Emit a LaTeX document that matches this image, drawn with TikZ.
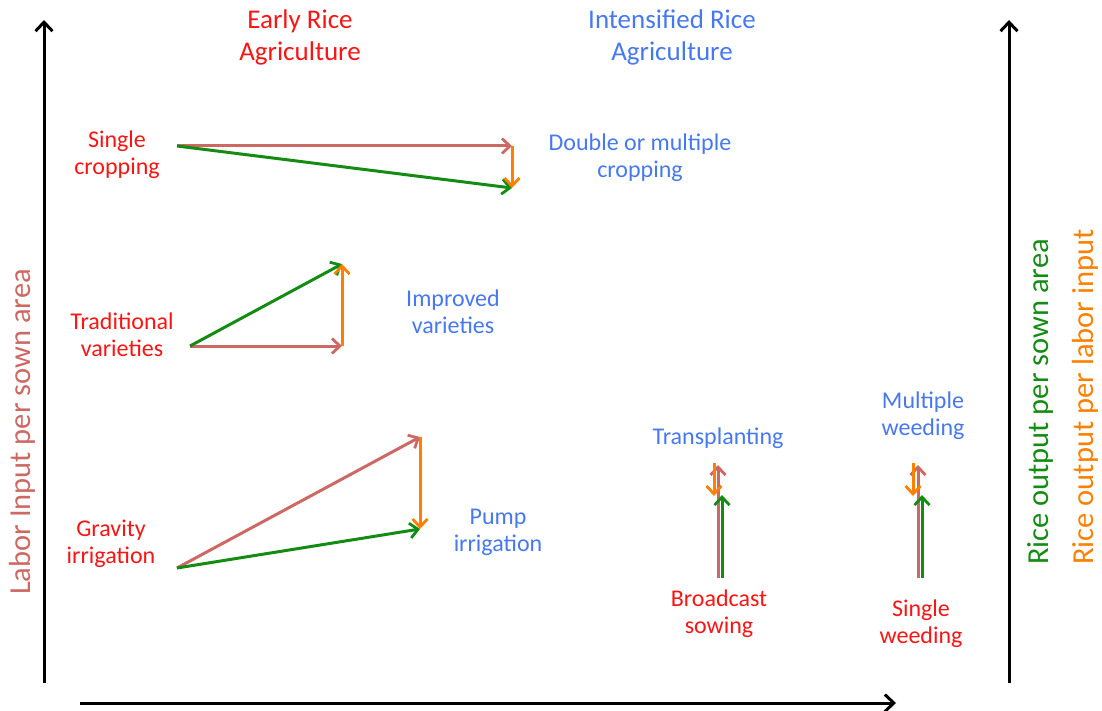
\documentclass[tikz,border=0pt]{standalone}
\usepackage{fontspec}
\setmainfont{Carlito}
\usetikzlibrary{arrows.meta}
\usetikzlibrary{positioning}
\definecolor{RoseLine}{RGB}{205,105,100}
\definecolor{GreenLine}{RGB}{20,140,20}
\definecolor{OrangeLine}{RGB}{255,128,0}
\definecolor{RedText}{RGB}{250,20,20}
\definecolor{BlueText}{RGB}{70,120,240}
\tikzstyle{Axis}       = [draw=black, line width=3pt, -{Straight Barb[length=9pt, width=17pt, line width=3pt]}]
\tikzstyle{BasicArrow} = [line width=3pt, -{Straight Barb[length=8pt, width=15pt, line width=2.8pt]}]
\tikzstyle{RoseArrow}   = [BasicArrow, draw=RoseLine]
\tikzstyle{GreenArrow}  = [BasicArrow, draw=GreenLine]
\tikzstyle{OrangeArrow} = [BasicArrow, draw=OrangeLine]
\tikzstyle{BasicText}  = [align=center, inner sep=0pt, font=\fontsize{24}{27}\selectfont]
\tikzstyle{EarlyText}  = [BasicText, text=RedText]
\tikzstyle{NewText}    = [BasicText, text=BlueText]
\tikzstyle{HeadText}   = [align=center, inner sep=0pt, font=\fontsize{27}{32}\selectfont]
\tikzstyle{AxisText}   = [inner sep=0pt, rotate=90, font=\fontsize{30.5}{34}\selectfont]

\begin{document}
\begin{tikzpicture}[x=1pt, y=-1pt]

\useasboundingbox (0,0) rectangle (1102,711);

%% -------------------------------------------------------------- [ Axes ]
\coordinate (origin) at (44,683);
\coordinate (ytop)   at (44,20);
\coordinate (xstart) at (80,703);
\coordinate (xend)   at (896,703);
\coordinate (rbot)   at (1009,683);
\coordinate (rtop)   at (1009,20);

\draw [Axis] (origin) -- (ytop);
\draw [Axis] (xstart) -- (xend);
\draw [Axis] (rbot) -- (rtop);

\node (laborlabel) [AxisText, text=RoseLine] at (22,432) {Labor Input per sown area};
\node (arealabel)  [AxisText, text=GreenLine] at (1040,402) {Rice output per sown area};
\node (laborout)   [AxisText, text=OrangeLine] at (1085,397) {Rice output per labor input};

%% ------------------------------------------------------------ [ Headers ]
\node (early) [HeadText, text=RedText]  at (300,37) {Early Rice\\Agriculture};
\node (intens) [HeadText, text=BlueText] at (672,37) {Intensified Rice\\Agriculture};

%% ----------------------------------------------------------- [ Cropping ]
\node (single)  [EarlyText] at (117,155) {Single\\cropping};
\node (double)  [NewText]   at (640,158) {Double or multiple\\cropping};

\coordinate (cropA) at (177,146);
\coordinate (cropB) at (512,146);
\coordinate (cropC) at (512,188);

\draw [RoseArrow]   (cropA) -- (cropB);
\draw [GreenArrow]  (cropA) -- (cropC);
\draw [OrangeArrow] (cropB) -- (cropC);

%% ----------------------------------------------------------- [ Varieties ]
\node (tradvar) [EarlyText] at (122,335) {Traditional\\varieties};
\node (impvar)  [NewText]   at (453,312) {Improved\\varieties};

\coordinate (varA) at (190,346);
\coordinate (varB) at (342,346);
\coordinate (varC) at (342,264);

\draw [RoseArrow]   (varA) -- (varB);
\draw [GreenArrow]  (varA) -- (varC);
\draw [OrangeArrow] (varB) -- (varC);

%% ---------------------------------------------------------- [ Irrigation ]
\node (gravity) [EarlyText] at (111,544) {Gravity\\irrigation};
\node (pump)    [NewText]   at (498,532) {Pump\\irrigation};

\coordinate (irrA) at (177,568);
\coordinate (irrB) at (420,437);
\coordinate (irrC) at (420,529);

\draw [RoseArrow]   (irrA) -- (irrB);
\draw [GreenArrow]  (irrA) -- (irrC);
\draw [OrangeArrow] (irrB) -- (irrC);

%% ------------------------------------------------------------ [ Sowing ]
\node (broad)  [EarlyText] at (719,614) {Broadcast\\sowing};
\node (transp) [NewText]   at (718,438) {Transplanting};

\coordinate (sowRose)   at (718,578);
\coordinate (sowRoseT)  at (718,465);
\coordinate (sowGreen)  at (722,578);
\coordinate (sowGreenT) at (722,495);
\coordinate (sowOrng)   at (714,463);
\coordinate (sowOrngT)  at (714,496);

\draw [RoseArrow]   (sowRose) -- (sowRoseT);
\draw [GreenArrow]  (sowGreen) -- (sowGreenT);
\draw [OrangeArrow] (sowOrng) -- (sowOrngT);

%% ----------------------------------------------------------- [ Weeding ]
\node (sweed) [EarlyText] at (921,624) {Single\\weeding};
\node (mweed) [NewText]   at (923,416) {Multiple\\weeding};

\coordinate (wdRose)   at (918,578);
\coordinate (wdRoseT)  at (918,465);
\coordinate (wdGreen)  at (922,578);
\coordinate (wdGreenT) at (922,495);
\coordinate (wdOrng)   at (913,463);
\coordinate (wdOrngT)  at (913,496);

\draw [RoseArrow]   (wdRose) -- (wdRoseT);
\draw [GreenArrow]  (wdGreen) -- (wdGreenT);
\draw [OrangeArrow] (wdOrng) -- (wdOrngT);
\end{tikzpicture}
\end{document}
